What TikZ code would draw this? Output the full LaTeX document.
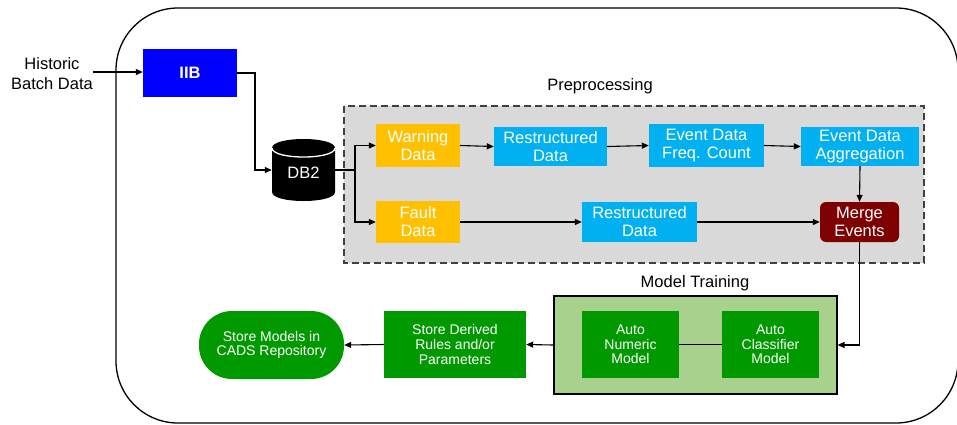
\documentclass[tikz,border=0pt]{standalone}
\usepackage{fontspec}
\setmainfont{Liberation Sans}
\usetikzlibrary{arrows.meta}
\definecolor{iibblue}{RGB}{0,0,255}
\definecolor{amber}{RGB}{255,192,0}
\definecolor{skyb}{RGB}{0,176,240}
\definecolor{maroonm}{RGB}{127,0,0}
\definecolor{greenm}{RGB}{0,153,0}
\definecolor{lgreen}{RGB}{169,209,142}
\definecolor{pregray}{RGB}{217,217,217}
\tikzset{
  box/.style={rectangle, inner sep=0pt, text=white, align=center, font=\fontsize{16.5}{18}\selectfont},
  gbox/.style={box, fill=greenm, font=\fontsize{14}{14.7}\selectfont},
  arr/.style={line width=1.1pt, -{Triangle[length=7pt,width=6pt]}},
  conn/.style={line width=1.1pt},
  lbl/.style={inner sep=0pt, align=center, font=\fontsize{16.5}{20}\selectfont}
}
\begin{document}
\begin{tikzpicture}[x=1pt,y=-1pt]
\useasboundingbox (0,0) rectangle (957,424);
% outer frame
\draw[line width=1.3pt, rounded corners=62pt] (116,8) rectangle (958,423);
% preprocessing area
\draw[fill=pregray, draw=black!75, line width=1.3pt, dash pattern=on 7pt off 4pt] (344,106) rectangle (924,263);
\node[lbl] (prelbl) at (600,86) {Preprocessing};
% model training area
\node[rectangle, draw=black, line width=1.1pt, fill=lgreen, minimum width=283pt, minimum height=98pt, inner sep=0pt] (train) at (695.5,345) {};
\node[lbl] (trainlbl) at (695,283) {Model Training};

% input
\node[lbl] (hist) at (52,74) {Historic\\Batch Data};
\node[box, fill=iibblue, minimum width=94pt, minimum height=48pt, font=\bfseries\fontsize{16.5}{18}\selectfont] (iib) at (190,73) {IIB};

% DB2 cylinder
\node[inner sep=0pt, minimum width=63pt, minimum height=62pt] (db2) at (303.5,170) {};
\fill[black] (272,148) .. controls (272,136) and (335,136) .. (335,148) -- (335,192) .. controls (335,204) and (272,204) .. (272,192) -- cycle;
\draw[white, line width=1.3pt] (272,148) .. controls (272,160) and (335,160) .. (335,148);
\node[text=white, font=\fontsize{16.5}{18}\selectfont, inner sep=0pt] (db2txt) at (303.5,173) {DB2};

% preprocessing nodes
\node[box, fill=amber, minimum width=84pt, minimum height=43pt] (warn) at (418,145.5) {Warning\\Data};
\node[box, fill=skyb, minimum width=113pt, minimum height=39pt] (r1) at (550.5,146.5) {Restructured\\Data};
\node[box, fill=skyb, minimum width=115pt, minimum height=43pt] (freq) at (706.5,145.5) {Event Data\\Freq. Count};
\node[box, fill=skyb, minimum width=118pt, minimum height=39pt] (aggr) at (860,146.5) {Event Data\\Aggregation};
\node[box, fill=amber, minimum width=84pt, minimum height=42pt] (fault) at (418,222) {Fault\\Data};
\node[box, fill=skyb, minimum width=115pt, minimum height=40pt] (r2) at (639.5,222) {Restructured\\Data};
\node[box, fill=maroonm, rounded corners=6pt, minimum width=79pt, minimum height=40pt] (merge) at (859.5,222) {Merge\\Events};

% model training nodes
\node[gbox, minimum width=97pt, minimum height=67pt] (numeric) at (630.5,344.5) {Auto\\Numeric\\Model};
\node[gbox, minimum width=97pt, minimum height=67pt] (classif) at (770.5,344.5) {Auto\\Classifier\\Model};
\node[gbox, minimum width=142pt, minimum height=67pt] (derived) at (455,344.5) {Store Derived\\Rules and/or\\Parameters};
\node[gbox, rounded corners=33pt, minimum width=145pt, minimum height=68pt] (store) at (271.5,345) {Store Models in\\CADS Repository};

% connectors
\coordinate (hstart) at (93,72);
\draw[arr] (hstart) -- (hstart -| iib.west);
\coordinate (bend1) at (255,73);
\draw[arr] (iib.east) -- (bend1) |- (db2.west);
\coordinate (split) at (355,170);
\draw[conn] (db2.east) -- (split);
\draw[arr] (split) |- (warn.west);
\draw[arr] (split) |- (fault.west);
\draw[arr] (warn.east) -- (r1.west);
\draw[arr] (r1.east) -- (freq.west);
\draw[arr] (freq.east) -- (aggr.west);
\draw[arr] (aggr.south) -- (merge.north);
\draw[arr] (fault.east) -- (r2.west);
\draw[arr] (r2.east) -- (merge.west);
\draw[arr] (merge.south) |- (train.east);
\draw[conn] (numeric.east) -- (classif.west);
\draw[arr] (train.west) -- (derived.east);
\draw[arr] (derived.west) -- (store.east);
\end{tikzpicture}
\end{document}
